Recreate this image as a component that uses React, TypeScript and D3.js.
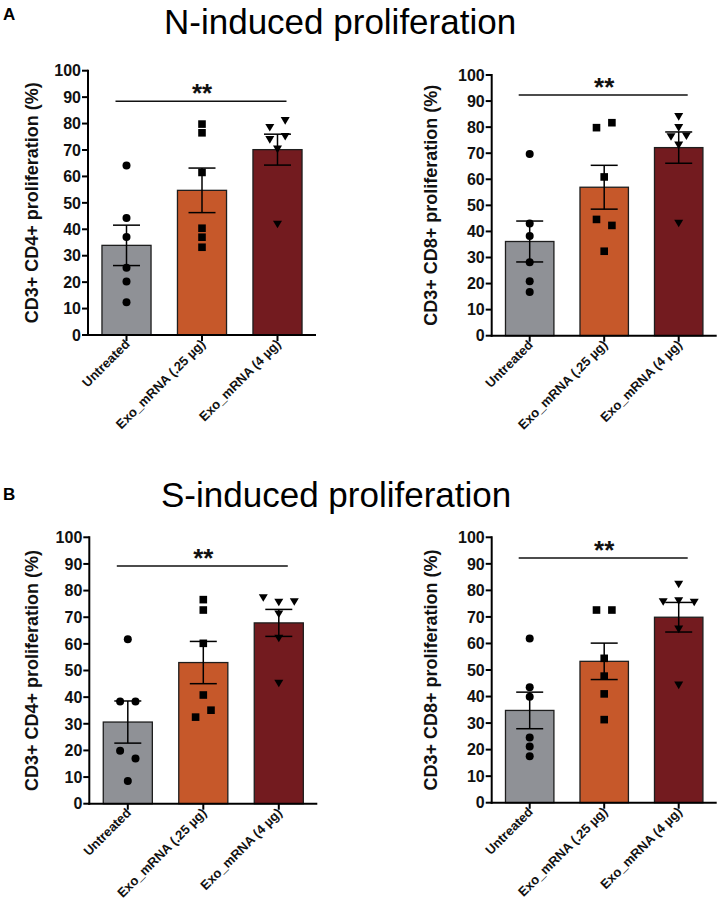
import React from "react";
import * as d3 from "d3";

const categories = ["Untreated", "Exo_mRNA (.25 µg)", "Exo_mRNA (4 µg)"];
const yTicks = [0, 10, 20, 30, 40, 50, 60, 70, 80, 90, 100];

// N-induced, CD4
const nCd4Untreated = [64.1, 44.3, 37.1, 25.4, 20.2, 12.4];
const nCd4Low = [79.8, 76.5, 61.5, 40.4, 37.0, 33.2];
const nCd4High = [78.5, 81.1, 73.9, 75.1, 70.3, 41.9];
// N-induced, CD8
const nCd8Untreated = [69.7, 43.0, 38.2, 28.2, 20.9, 16.8];
const nCd8Low = [79.8, 81.7, 60.9, 44.6, 42.3, 32.4];
const nCd8High = [84.0, 79.8, 76.3, 76.6, 73.1, 43.1];
// S-induced, CD4
const sCd4Untreated = [61.7, 38.4, 38.4, 19.9, 17.0, 8.5];
const sCd4Low = [76.6, 72.7, 60.2, 40.8, 32.5, 35.1];
const sCd4High = [77.3, 75.6, 75.8, 71.2, 62.1, 45.2];
// S-induced, CD8
const sCd8Untreated = [61.9, 43.5, 39.9, 24.6, 21.2, 17.5];
const sCd8Low = [72.6, 72.6, 54.4, 47.7, 41.0, 31.3];
const sCd8High = [82.3, 75.7, 76.1, 75.5, 65.4, 44.3];

const sigLevels = [88.4, 92.3, 89.2, 92.2];
const sigText = "**";
const yLabels = ["CD3+ CD4+ proliferation (%)", "CD3+ CD8+ proliferation (%)"];
const sectionTitles = ["N-induced proliferation", "S-induced proliferation"];
const sectionLetters = ["A", "B"];

const barColors = ["#8f9196", "#c6582a", "#731b1f"];
const FONT = "'Liberation Sans', Arial, Helvetica, sans-serif";

type PanelCfg = {
  x0: number; yTop: number; yBot: number; w: number; labelX: number;
  series: number[][]; sig: number; yLabel: string;
};

const panels: PanelCfg[] = [
  { x0: 88, yTop: 70.7, yBot: 335, w: 228, labelX: 38, series: [nCd4Untreated, nCd4Low, nCd4High], sig: sigLevels[0], yLabel: yLabels[0] },
  { x0: 491.7, yTop: 75, yBot: 335.7, w: 225, labelX: 437, series: [nCd8Untreated, nCd8Low, nCd8High], sig: sigLevels[1], yLabel: yLabels[1] },
  { x0: 89.3, yTop: 537.3, yBot: 803.7, w: 228, labelX: 38, series: [sCd4Untreated, sCd4Low, sCd4High], sig: sigLevels[2], yLabel: yLabels[0] },
  { x0: 491.7, yTop: 537.3, yBot: 802.7, w: 225, labelX: 437, series: [sCd8Untreated, sCd8Low, sCd8High], sig: sigLevels[3], yLabel: yLabels[1] },
];

// GraphPad-like scatter arrangement: rows of near-equal values centred on the bar
function arrange(values: number[], y: (v: number) => number) {
  const idx = values.map((v, i) => i).sort((a, b) => values[b] - values[a]);
  const groups: number[][] = [];
  let cur: number[] = [];
  let startY = 0;
  idx.forEach((i) => {
    const py = y(values[i]);
    if (cur.length && Math.abs(py - startY) < 8 && cur.length < 3) {
      cur.push(i);
    } else {
      if (cur.length) groups.push(cur);
      cur = [i];
      startY = py;
    }
  });
  if (cur.length) groups.push(cur);
  const out: { v: number; dx: number }[] = [];
  groups.forEach((g) => {
    const sorted = [...g].sort((a, b) => a - b);
    const offs = sorted.length === 1 ? [0] : sorted.length === 2 ? [-7.7, 7.7] : [-15.5, 0, 15.5];
    sorted.forEach((i, k) => out.push({ v: values[i], dx: offs[k] }));
  });
  return out;
}

function Marker({ kind, cx, cy }: { kind: number; cx: number; cy: number }) {
  if (kind === 0) return <circle cx={cx} cy={cy} r={4} fill="#000" />;
  if (kind === 1) return <rect x={cx - 3.8} y={cy - 3.8} width={7.6} height={7.6} fill="#000" />;
  return <path d={`M${cx - 4.5},${cy - 3.6}L${cx + 4.5},${cy - 3.6}L${cx},${cy + 4}Z`} fill="#000" />;
}

function Panel({ p }: { p: PanelCfg }) {
  const y = d3.scaleLinear().domain([0, 100]).range([p.yBot, p.yTop]);
  const x = d3.scaleBand<string>().domain(categories).range([p.x0, p.x0 + p.w]).paddingInner(0.35).paddingOuter(0.185);
  const bw = x.bandwidth();
  const c0 = (x(categories[0]) as number) + bw / 2;
  const c2 = (x(categories[2]) as number) + bw / 2;
  const yMid = (p.yTop + p.yBot) / 2;
  return (
    <g>
      {p.series.map((vals, i) => {
        const m = d3.mean(vals) as number;
        const sem = (d3.deviation(vals) as number) / Math.sqrt(vals.length);
        const bx = x(categories[i]) as number;
        const cx = bx + bw / 2;
        const pts = arrange(vals, y);
        return (
          <g key={i}>
            <rect x={bx} y={y(m)} width={bw} height={p.yBot - y(m)} fill={barColors[i]} stroke="#1e1e1e" strokeWidth={1.3} />
            {pts.map((pt, k) => (
              <Marker key={k} kind={i} cx={cx + pt.dx} cy={y(pt.v)} />
            ))}
            <g stroke="#000" strokeWidth={1.5}>
              <line x1={cx} x2={cx} y1={y(m - sem)} y2={y(m + sem)} />
              <line x1={cx - 13.5} x2={cx + 13.5} y1={y(m + sem)} y2={y(m + sem)} />
              <line x1={cx - 13.5} x2={cx + 13.5} y1={y(m - sem)} y2={y(m - sem)} />
            </g>
          </g>
        );
      })}
      {/* axes */}
      <line x1={p.x0} x2={p.x0} y1={p.yTop - 1} y2={p.yBot + 1} stroke="#000" strokeWidth={2} />
      <line x1={p.x0 - 1} x2={p.x0 + p.w} y1={p.yBot} y2={p.yBot} stroke="#000" strokeWidth={2} />
      {yTicks.map((t) => (
        <g key={t}>
          <line x1={p.x0 - 6} x2={p.x0} y1={y(t)} y2={y(t)} stroke="#000" strokeWidth={2} />
          <text x={p.x0 - 7} y={y(t)} dy="0.36em" textAnchor="end" fontFamily={FONT} fontWeight="bold" fontSize={16} fill="#111">
            {t}
          </text>
        </g>
      ))}
      {categories.map((c) => {
        const cx = (x(c) as number) + bw / 2;
        return (
          <g key={c}>
            <line x1={cx} x2={cx} y1={p.yBot} y2={p.yBot + 6} stroke="#000" strokeWidth={2} />
            <text transform={`translate(${cx + 4},${p.yBot + 10}) rotate(-45)`} textAnchor="end" fontFamily={FONT} fontWeight="bold" fontSize={13} fill="#111">
              {c}
            </text>
          </g>
        );
      })}
      <text transform={`translate(${p.labelX},${yMid}) rotate(-90)`} textAnchor="middle" fontFamily={FONT} fontWeight="bold" fontSize={18} fill="#111">
        {p.yLabel}
      </text>
      {/* significance */}
      <line x1={c0 - 11} x2={c2 + 9} y1={y(p.sig)} y2={y(p.sig)} stroke="#111" strokeWidth={1.5} />
      <text x={(c0 + c2) / 2} y={y(p.sig) + 1} textAnchor="middle" fontFamily={FONT} fontWeight="bold" fontSize={26} fill="#111">
        {sigText}
      </text>
    </g>
  );
}

export default function App() {
  return (
    <svg width={722} height={902} style={{ position: "absolute", left: 0, top: 0, background: "#fff" }}>
      <rect width={722} height={902} fill="#fff" />
      <text x={3} y={19.5} fontFamily={FONT} fontWeight="bold" fontSize={17} fill="#000">{sectionLetters[0]}</text>
      <text x={164} y={34.3} fontFamily={FONT} fontSize={35} fill="#000">{sectionTitles[0]}</text>
      <text x={3} y={500} fontFamily={FONT} fontWeight="bold" fontSize={17} fill="#000">{sectionLetters[1]}</text>
      <text x={161} y={507} fontFamily={FONT} fontSize={35} fill="#000">{sectionTitles[1]}</text>
      {panels.map((p, i) => (
        <Panel key={i} p={p} />
      ))}
    </svg>
  );
}
